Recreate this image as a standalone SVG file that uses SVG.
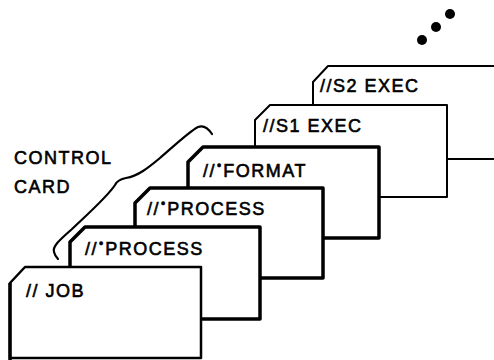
<svg xmlns="http://www.w3.org/2000/svg" width="494" height="360" viewBox="0 0 494 360">
<style>
.card{fill:#fff;stroke:#000;stroke-linejoin:round}
.lbl{font-family:"Liberation Sans",Arial,sans-serif;font-size:18px;letter-spacing:1.5px;fill:#000;stroke:#000;stroke-width:0.6}
.thin{stroke-width:2}
.thick{stroke-width:3.5}
</style>
<rect width="494" height="360" fill="#fff"/>
<g id="dots">
<circle cx="422" cy="40" r="5"/>
<circle cx="436" cy="27" r="5"/>
<circle cx="450" cy="14" r="5"/>
</g>
<g id="card-s2">
<path class="card thin" d="M313,82 L328,66 L520,66 L520,159 L313,159 Z"/>
<text class="lbl" x="320" y="92">//S2 EXEC</text>
</g>
<g id="card-s1">
<path class="card thin" d="M255,120 L270,105 L447,105 L447,197 L255,197 Z"/>
<text class="lbl" x="263" y="132">//S1 EXEC</text>
</g>
<g id="card-format">
<path class="card thick" d="M188,162 L203,147 L379,147 L379,238 L188,238 Z"/>
<text class="lbl" x="203" y="177">//<tspan dx="1" dy="-7" font-size="12" letter-spacing="0">•</tspan><tspan dx="2" dy="7">FORMAT</tspan></text>
</g>
<g id="card-process2">
<path class="card thick" d="M135,203 L150,188 L323,188 L323,278 L135,278 Z"/>
<text class="lbl" x="147" y="215">//<tspan dx="1" dy="-7" font-size="12" letter-spacing="0">•</tspan><tspan dx="2" dy="7">PROCESS</tspan></text>
</g>
<g id="card-process1">
<path class="card thick" d="M70,242 L85,227 L260,227 L260,319 L70,319 Z"/>
<text class="lbl" x="85" y="255">//<tspan dx="1" dy="-7" font-size="12" letter-spacing="0">•</tspan><tspan dx="2" dy="7">PROCESS</tspan></text>
</g>
<g id="card-job">
<path class="card" stroke-width="2.5" d="M10,283 L25,267 L201,267 L201,358 L10,358 Z"/>
<line x1="10" y1="283" x2="10" y2="360" stroke="#000" stroke-width="3.5"/>
<text class="lbl" x="26" y="297">// JOB</text>
</g>
<g id="control-card">
<text class="lbl" x="14" y="164" letter-spacing="2.4">CONTROL</text>
<text class="lbl" x="14" y="193" letter-spacing="2.4">CARD</text>
<path d="M212,134 C208,128 203,125 198,127 C190,131 175,145 160,158 C148,168 138,176 126,178 C120,179 117,181 115,185 C108,196 90,212 72,229 C62,238 52,246 54,252 C55,256 57,258 58,259" fill="none" stroke="#000" stroke-width="2.2" stroke-linecap="round"/>
</g>
</svg>
